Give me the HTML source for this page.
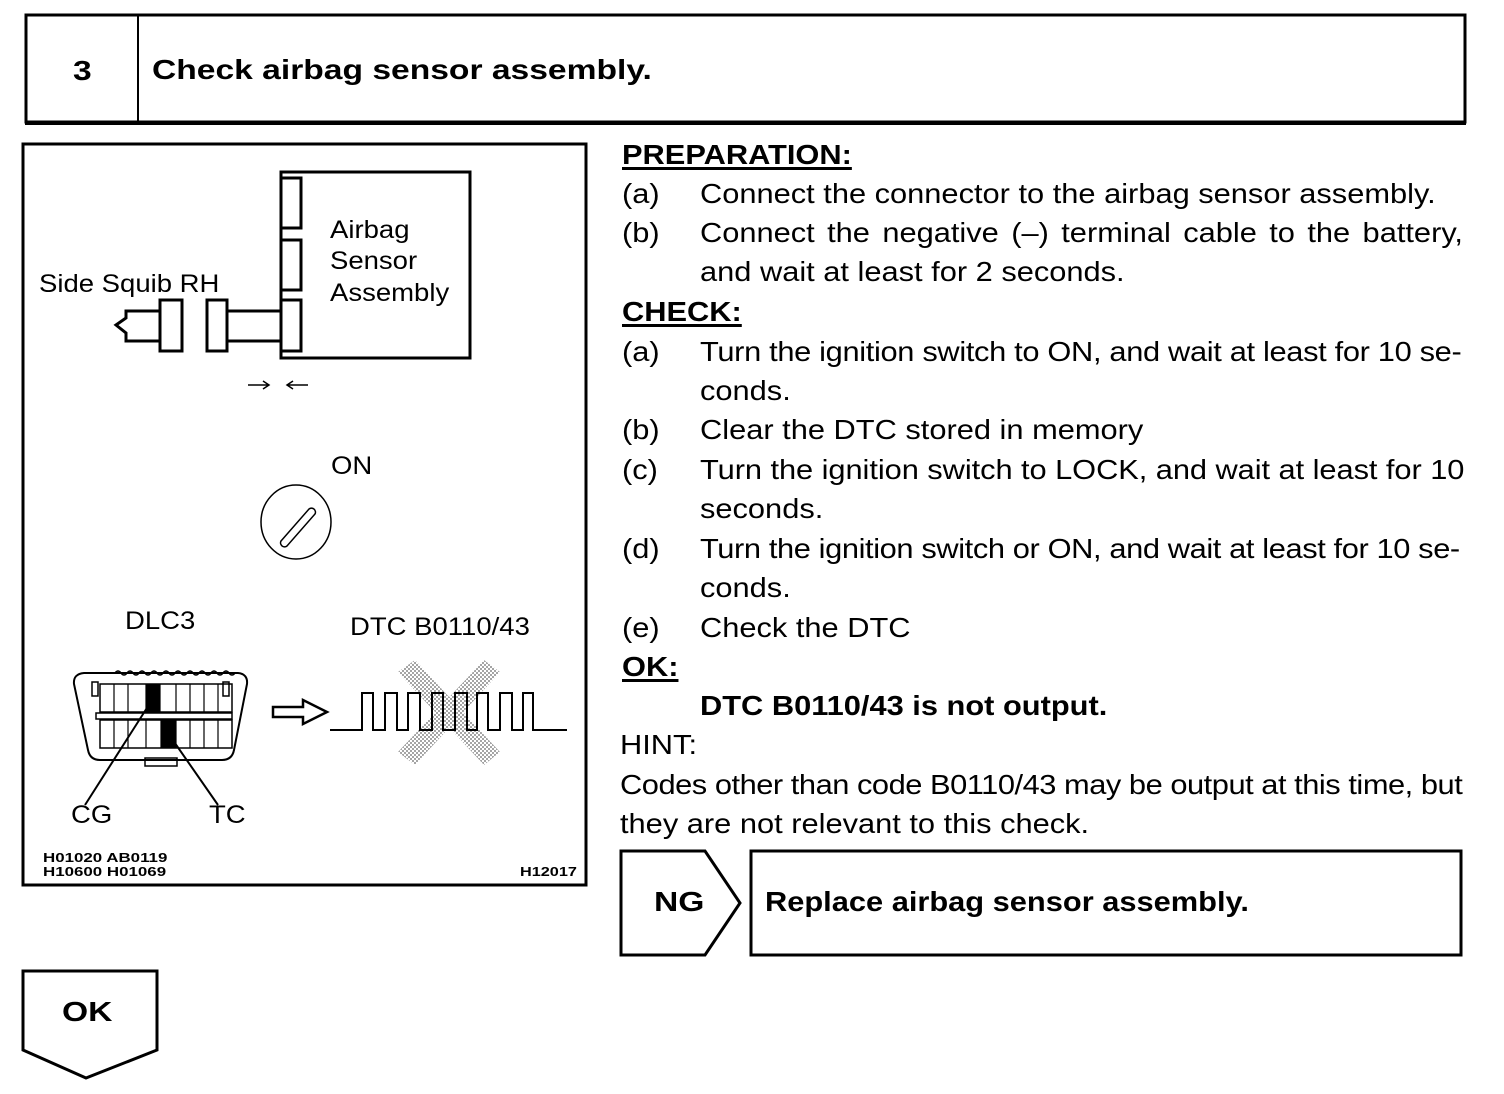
<!DOCTYPE html>
<html><head><meta charset="utf-8"><style>
body{margin:0;width:1504px;height:1094px;background:#fff;position:relative;overflow:hidden;font-family:"Liberation Sans",Arial,sans-serif;color:#000}
.t{position:absolute;font-size:28px;white-space:nowrap;line-height:1;transform:scaleX(1.1);transform-origin:0 0}
.d{font-size:25px}
.b{font-weight:bold}
.u{text-decoration:underline;text-decoration-thickness:3px;text-underline-offset:3px}
svg{position:absolute;left:0;top:0}
</style></head><body>
<svg width="1504" height="1094" viewBox="0 0 1504 1094">
<g fill="none" stroke="#000">
<rect x="26" y="15" width="1439" height="107" stroke-width="3"/>
<line x1="25" y1="124" x2="1466" y2="124" stroke-width="2"/>
<line x1="138" y1="15" x2="138" y2="122" stroke-width="2"/>
<rect x="23" y="144" width="563" height="741" stroke-width="3"/>
<rect x="281" y="172" width="189" height="186" stroke-width="3"/>
<rect x="281" y="178" width="20" height="50" stroke-width="3"/>
<rect x="281" y="240" width="20" height="50" stroke-width="3"/>
<rect x="281" y="300" width="20" height="51" stroke-width="3"/>
<rect x="160" y="300" width="22" height="51" stroke-width="3"/>
<rect x="207" y="300" width="20" height="51" stroke-width="3"/>
<path d="M227 311H281M227 341H281" stroke-width="3"/>
<path d="M160 311H126V318L116 325L126 333V341H160" stroke-width="3"/>
<path d="M248 385H268M263 381L269 385L263 389M287 385H308M293 381L287 385L293 389" stroke-width="1.5"/>
<ellipse cx="296" cy="522" rx="35" ry="37" stroke-width="1.5"/>
<path d="M281 541L309 509A4 4 0 0 1 315 514L287 546A4 4 0 0 1 281 541Z" stroke-width="1.5"/>
<path d="M84 673H238Q248 674 247 684L234 750Q232 760 222 760H100Q90 760 88 750L74 684Q73 674 84 673Z" stroke-width="2"/>
<path d="M115 673q3-4 6 0t6 0t6 0t6 0t6 0t6 0t6 0t6 0t6 0t6 0t6 0t6 0t6 0t6 0t6 0t6 0t6 0t6 0t6 0t6 0" stroke-width="1.5"/>
<rect x="145" y="758" width="32" height="8" stroke-width="1.5"/>
<rect x="92" y="682" width="6" height="14" stroke-width="1.5"/>
<rect x="223" y="682" width="6" height="14" stroke-width="1.5"/>
<rect x="100" y="684" width="132" height="28" stroke-width="1.5"/>
<rect x="96" y="713" width="136" height="6" stroke-width="1.5"/>
<rect x="100" y="720" width="132" height="28" stroke-width="1.5"/>
<path d="M114 684V712M128 684V712M146 684V712M160 684V712M176 684V712M190 684V712M204 684V712M218 684V712M114 720V748M128 720V748M146 720V748M161 720V748M176 720V748M190 720V748M204 720V748M218 720V748" stroke-width="1.2"/>
<path d="M152 700L85 805M170 736L218 805" stroke-width="2"/>
<path d="M273 707H303V700L327 712L303 724V717H273Z" stroke-width="2.5"/>
</g>
<rect x="146" y="684" width="14" height="28" fill="#000"/>
<rect x="161" y="720" width="15" height="28" fill="#000"/>
<defs><pattern id="h" width="4" height="4" patternUnits="userSpaceOnUse"><rect width="2" height="2" fill="#000"/><rect x="2" y="2" width="2" height="2" fill="#000"/></pattern></defs>
<g opacity="0.35" fill="url(#h)">
<polygon points="398,672 415,660 500,752 484,765"/>
<polygon points="484,660 500,672 415,765 398,752"/>
</g>
<path d="M330 730H362V693H373V730H385V693H397V730H408V693H420V730H432V693H443V730H455V693H467V730H477V693H488V730H500V693H512V730H523V693H533V730H567" fill="none" stroke="#000" stroke-width="2"/>
<path d="M621 851H705L740 903L705 955H621Z" fill="none" stroke="#000" stroke-width="3"/>
<rect x="751" y="851" width="710" height="104" fill="none" stroke="#000" stroke-width="3"/>
<path d="M23 971H157V1050L86 1078L23 1050Z" fill="none" stroke="#000" stroke-width="3"/>
</svg>
<div class="t b" style="left:73px;top:57px;transform:scaleX(1.2)">3</div>
<div class="t b" style="left:152px;top:56px;transform:scaleX(1.2)">Check airbag sensor assembly.</div>
<div class="t d" style="left:330px;top:218px">Airbag</div>
<div class="t d" style="left:330px;top:249px">Sensor</div>
<div class="t d" style="left:330px;top:281px">Assembly</div>
<div class="t d" style="left:39px;top:272px">Side Squib RH</div>
<div class="t d" style="left:331px;top:454px">ON</div>
<div class="t d" style="left:125px;top:609px">DLC3</div>
<div class="t d" style="left:350px;top:615px">DTC B0110/43</div>
<div class="t d" style="left:71px;top:803px">CG</div>
<div class="t d" style="left:209px;top:803px">TC</div>
<div class="t b" style="left:43px;top:851px;font-size:13px;line-height:14px;transform:scaleX(1.3)">H01020 AB0119<br>H10600 H01069</div>
<div class="t b" style="left:520px;top:865px;font-size:13px;transform:scaleX(1.25)">H12017</div>
<div class="t b u" style="left:622px;top:141px">PREPARATION:</div>
<div class="t" style="left:622px;top:180px">(a)</div><div class="t" style="left:700px;top:180px">Connect the connector to the airbag sensor assembly.</div>
<div class="t" style="left:622px;top:219px">(b)</div><div class="t" style="left:700px;top:219px;word-spacing:3.5px">Connect the negative (–) terminal cable to the battery,</div>
<div class="t" style="left:700px;top:258px">and wait at least for 2 seconds.</div>
<div class="t b u" style="left:622px;top:298px">CHECK:</div>
<div class="t" style="left:622px;top:338px">(a)</div><div class="t" style="left:700px;top:338px;letter-spacing:-0.3px">Turn the ignition switch to ON, and wait at least for 10 se-</div>
<div class="t" style="left:700px;top:377px">conds.</div>
<div class="t" style="left:622px;top:416px">(b)</div><div class="t" style="left:700px;top:416px">Clear the DTC stored in memory</div>
<div class="t" style="left:622px;top:456px">(c)</div><div class="t" style="left:700px;top:456px;letter-spacing:-0.05px">Turn the ignition switch to LOCK, and wait at least for 10</div>
<div class="t" style="left:700px;top:495px">seconds.</div>
<div class="t" style="left:622px;top:535px">(d)</div><div class="t" style="left:700px;top:535px;letter-spacing:-0.35px">Turn the ignition switch or ON, and wait at least for 10 se-</div>
<div class="t" style="left:700px;top:574px">conds.</div>
<div class="t" style="left:622px;top:614px">(e)</div><div class="t" style="left:700px;top:614px">Check the DTC</div>
<div class="t b u" style="left:622px;top:653px">OK:</div>
<div class="t b" style="left:700px;top:692px">DTC B0110/43 is not output.</div>
<div class="t" style="left:620px;top:731px">HINT:</div>
<div class="t" style="left:620px;top:771px;letter-spacing:-0.42px">Codes other than code B0110/43 may be output at this time, but</div>
<div class="t" style="left:620px;top:810px">they are not relevant to this check.</div>
<div class="t b" style="left:654px;top:888px;transform:scaleX(1.2)">NG</div>
<div class="t b" style="left:765px;top:888px">Replace airbag sensor assembly.</div>
<div class="t b" style="left:62px;top:998px;transform:scaleX(1.2)">OK</div>
</body></html>
